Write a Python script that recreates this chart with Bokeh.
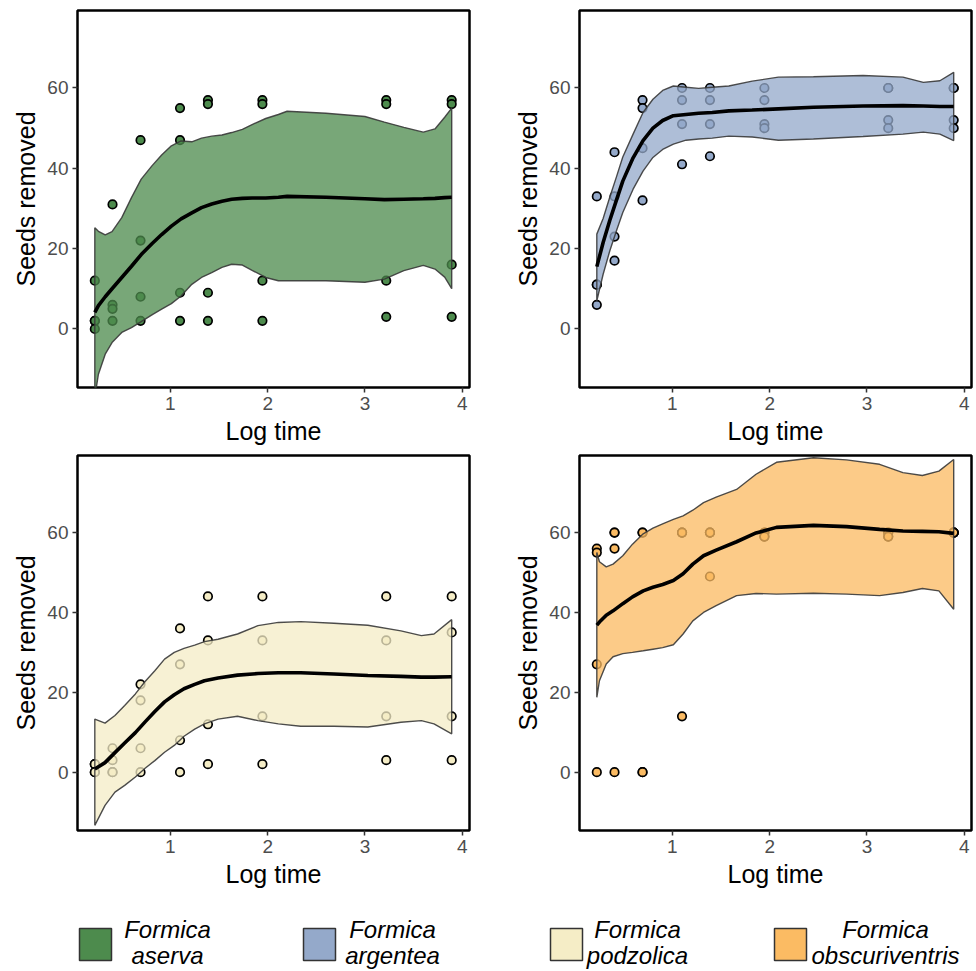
from bokeh.plotting import figure
from bokeh.layouts import column, row
from bokeh.models import Range1d, FixedTicker
from bokeh.embed import file_html
from bokeh.resources import INLINE
from bokeh.core.properties import value

# ---------------- data ----------------
LOG_TIME = [0.223, 0.405, 0.693, 1.099, 1.386, 1.946, 3.219, 3.892]

SPECIES_GENUS = ["Formica", "Formica", "Formica", "Formica"]
SPECIES_NAME = ["aserva", "argentea", "podzolica", "obscuriventris"]
COLORS = ["#4D8B4D", "#94A9CA", "#F5EDC6", "#FBBB63"]

# seeds removed, one list of replicates per log time
SEEDS_ASERVA = [[12, 2, 2, 0], [31, 6, 5, 2], [47, 22, 8, 2], [55, 47, 9, 2],
                [57, 56, 9, 2], [57, 56, 12, 2], [57, 56, 12, 3], [57, 56, 16, 3]]
SEEDS_ARGENTEA = [[33, 11, 11, 6], [44, 33, 23, 17], [57, 55, 45, 32], [60, 57, 51, 41],
                  [60, 57, 51, 43], [60, 57, 51, 50], [60, 60, 52, 50], [60, 60, 52, 50]]
SEEDS_PODZOLICA = [[2, 2, 0, 0], [6, 3, 0, 0], [22, 18, 6, 0], [36, 27, 8, 0],
                   [44, 33, 12, 2], [44, 33, 14, 2], [44, 33, 14, 3], [44, 35, 14, 3]]
SEEDS_OBSCURIVENTRIS = [[56, 55, 27, 0], [60, 60, 56, 0], [60, 60, 0, 0], [60, 60, 60, 14],
                        [60, 60, 60, 49], [60, 60, 59, 59], [60, 60, 59, 59], [60, 60, 60, 60]]

# smoothed fit with confidence band
FX_ASERVA = [0.223, 0.26, 0.33, 0.40, 0.50, 0.60, 0.70, 0.81, 0.91, 1.01, 1.11, 1.22, 1.32, 1.425,
             1.53, 1.63, 1.74, 1.84, 1.98, 2.11, 2.2, 2.6, 3.0, 3.2, 3.4, 3.6, 3.72, 3.82, 3.892]
FIT_ASERVA = [4.1, 5.8, 8.0, 10.0, 12.8, 15.6, 18.5, 21.2, 23.5, 25.6, 27.4, 28.9, 30.2, 31.1,
              31.8, 32.3, 32.5, 32.6, 32.6, 32.8, 33.0, 32.8, 32.4, 32.2, 32.3, 32.4, 32.5, 32.7, 32.8]
UP_ASERVA = [25.2, 24.3, 23.4, 24.2, 27.7, 32.7, 37.3, 40.6, 43.3, 45.6, 46.8, 46.6, 47.5, 48.0,
             48.3, 48.9, 49.7, 50.9, 52.4, 53.4, 54.2, 53.7, 52.9, 51.5, 50.2, 49.0, 49.8, 52.7, 55.0]
LO_ASERVA = [-17.0, -11.3, -6.3, -3.4, -0.9, 0.3, 1.8, 3.5, 4.9, 6.3, 8.2, 11.1, 12.8, 14.0,
             15.3, 16.1, 15.9, 14.6, 12.8, 12.0, 12.0, 12.0, 11.6, 12.4, 14.5, 15.8, 14.9, 12.9, 10.0]

FX_ARGENTEA = [0.223, 0.288, 0.356, 0.424, 0.49, 0.596, 0.698, 0.80, 0.90, 1.01, 1.14, 1.27,
               1.41, 1.58, 1.82, 2.09, 2.45, 2.96, 3.37, 3.58, 3.75, 3.892]
FIT_ARGENTEA = [15.5, 21.5, 27.0, 32.0, 36.8, 42.6, 46.9, 50.0, 51.9, 53.1, 53.4, 53.7,
                53.9, 54.3, 54.5, 54.8, 55.2, 55.5, 55.6, 55.5, 55.4, 55.4]
UP_ARGENTEA = [23.6, 27.5, 32.8, 37.8, 42.8, 48.5, 53.9, 57.2, 59.4, 60.5, 60.2, 59.9,
               60.2, 60.5, 61.7, 62.7, 62.8, 63.1, 62.7, 61.4, 61.8, 63.9]
LO_ARGENTEA = [7.0, 13.6, 19.4, 24.4, 29.0, 34.8, 39.3, 42.7, 44.7, 46.0, 47.0, 47.3,
               47.5, 48.0, 47.8, 47.0, 47.3, 47.9, 48.5, 49.0, 48.5, 46.9]

FX_PODZOLICA = [0.223, 0.328, 0.43, 0.53, 0.64, 0.74, 0.84, 0.94, 1.04, 1.14, 1.25, 1.35,
                1.49, 1.69, 1.90, 2.11, 2.34, 2.68, 3.03, 3.37, 3.58, 3.71, 3.892]
FIT_PODZOLICA = [0.8, 2.4, 4.9, 7.3, 9.9, 12.6, 15.2, 17.6, 19.4, 20.9, 22.0, 22.9,
                 23.6, 24.3, 24.7, 24.9, 24.9, 24.6, 24.2, 24.0, 23.8, 23.8, 23.9]
UP_PODZOLICA = [13.3, 12.3, 14.2, 16.7, 19.6, 22.7, 25.4, 28.3, 30.0, 31.0, 31.8, 32.7,
                33.3, 34.6, 36.7, 37.5, 37.7, 37.3, 36.8, 35.4, 34.2, 34.6, 38.2]
LO_PODZOLICA = [-13.3, -8.3, -5.0, -3.3, -1.2, 1.0, 2.9, 5.0, 6.7, 9.0, 10.8, 12.1,
                13.3, 14.0, 12.9, 12.1, 11.5, 11.5, 11.3, 12.5, 12.9, 12.1, 9.6]

FX_OBSC = [0.223, 0.25, 0.32, 0.39, 0.49, 0.59, 0.70, 0.80, 0.90, 1.01, 1.11, 1.21,
           1.32, 1.45, 1.66, 1.86, 2.07, 2.45, 2.79, 3.13, 3.37, 3.57, 3.74, 3.892]
FIT_OBSC = [36.8, 37.6, 39.3, 40.4, 42.2, 43.9, 45.4, 46.3, 47.0, 48.0, 49.7, 52.1,
            54.2, 55.6, 57.7, 59.9, 61.3, 61.8, 61.5, 60.8, 60.4, 60.3, 60.2, 59.8]
UP_OBSC = [55.0, 52.7, 51.4, 52.1, 54.2, 57.1, 59.7, 61.1, 62.2, 63.3, 64.2, 65.6,
           67.5, 68.9, 70.8, 74.6, 77.6, 78.75, 78.2, 77.1, 75.0, 74.3, 75.4, 78.3]
LO_OBSC = [18.75, 22.9, 27.1, 28.9, 29.7, 30.0, 30.4, 30.8, 31.2, 31.9, 34.6, 37.9,
           40.0, 41.7, 44.2, 44.75, 44.6, 44.8, 44.6, 44.2, 45.0, 46.0, 45.4, 40.8]

X_TICKS = [1, 2, 3, 4]
Y_TICKS = [0, 20, 40, 60]
X_LABEL = "Log time"
Y_LABEL = "Seeds removed"

FONT = "Liberation Sans"


def make_panel(seeds, fx, fit, up, lo, color, height, bl, br, bt, bb):
    p = figure(width=488, height=height, x_range=Range1d(0.045, 4.075),
               y_range=Range1d(-14.6, 79.3), toolbar_location=None,
               output_backend="svg", min_border_left=bl, min_border_right=br,
               min_border_top=bt, min_border_bottom=bb)
    px = [t for t, vals in zip(LOG_TIME, seeds) for _ in vals]
    py = [v for vals in seeds for v in vals]
    p.scatter(px, py, size=8.5, fill_color=color, fill_alpha=1.0,
              line_color="black", line_width=1.7)
    p.patch(list(fx) + list(fx[::-1]), list(up) + list(lo[::-1]),
            fill_color=color, fill_alpha=0.76, line_color="#383838",
            line_width=1.4, line_alpha=0.9)
    p.line(fx, fit, line_color="black", line_width=3.6)

    p.grid.visible = False
    p.outline_line_color = "black"
    p.outline_line_width = 2.5
    p.outline_line_alpha = 1.0
    p.background_fill_color = "white"
    p.border_fill_color = "white"
    p.xaxis.ticker = FixedTicker(ticks=X_TICKS)
    p.yaxis.ticker = FixedTicker(ticks=Y_TICKS)
    for ax in (p.xaxis, p.yaxis):
        ax.axis_line_color = None
        ax.major_tick_line_color = "#333333"
        ax.major_tick_line_width = 1.5
        ax.major_tick_out = 5
        ax.major_tick_in = 0
        ax.minor_tick_line_color = None
        ax.major_label_text_font = FONT
        ax.major_label_text_font_size = "19px"
        ax.major_label_text_color = "#4D4D4D"
        ax.major_label_standoff = 4
        ax.axis_label_text_font = FONT
        ax.axis_label_text_font_size = "25px"
        ax.axis_label_text_font_style = "normal"
        ax.axis_label_text_color = "black"
        ax.axis_label_standoff = 4
    p.xaxis.axis_label = X_LABEL
    p.yaxis.axis_label = Y_LABEL
    return p


p1 = make_panel(SEEDS_ASERVA, FX_ASERVA, FIT_ASERVA, UP_ASERVA, LO_ASERVA,
                COLORS[0], 450, 77, 19, 10, 63)
p2 = make_panel(SEEDS_ARGENTEA, FX_ARGENTEA, FIT_ARGENTEA, UP_ARGENTEA, LO_ARGENTEA,
                COLORS[1], 450, 91, 5, 10, 63)
p3 = make_panel(SEEDS_PODZOLICA, FX_PODZOLICA, FIT_PODZOLICA, UP_PODZOLICA, LO_PODZOLICA,
                COLORS[2], 440, 77, 19, 5, 60)
p4 = make_panel(SEEDS_OBSCURIVENTRIS, FX_OBSC, FIT_OBSC, UP_OBSC, LO_OBSC,
                COLORS[3], 440, 91, 5, 5, 60)

# ---------------- legend ----------------
LEG_SWATCH_LEFT = [79, 303, 550, 774]
LEG_TEXT_CENTER = [167, 392, 637, 885]
SWATCH_SIZE = 32
SWATCH_TOP = 928
LINE1_Y = 929
LINE2_Y = 955

leg = figure(width=976, height=80, x_range=Range1d(0, 976), y_range=Range1d(970, 890),
             toolbar_location=None, output_backend="svg", x_axis_type=None,
             y_axis_type=None, min_border=0)
leg.outline_line_color = None
leg.grid.visible = False
leg.quad(left=LEG_SWATCH_LEFT, right=[l + SWATCH_SIZE for l in LEG_SWATCH_LEFT],
         top=[SWATCH_TOP] * 4, bottom=[SWATCH_TOP + SWATCH_SIZE] * 4,
         fill_color=COLORS, line_color="#333333", line_width=1.5)
leg.text(x=LEG_TEXT_CENTER, y=[LINE1_Y] * 4, text=SPECIES_GENUS,
         text_font=value(FONT), text_font_style="italic", text_font_size="24px",
         text_align="center", text_baseline="middle", text_color="black")
leg.text(x=LEG_TEXT_CENTER, y=[LINE2_Y] * 4, text=SPECIES_NAME,
         text_font=value(FONT), text_font_style="italic", text_font_size="24px",
         text_align="center", text_baseline="middle", text_color="black")

layout = column(row(p1, p2), row(p3, p4), leg)
open("out.html", "w").write(file_html(layout, INLINE))
